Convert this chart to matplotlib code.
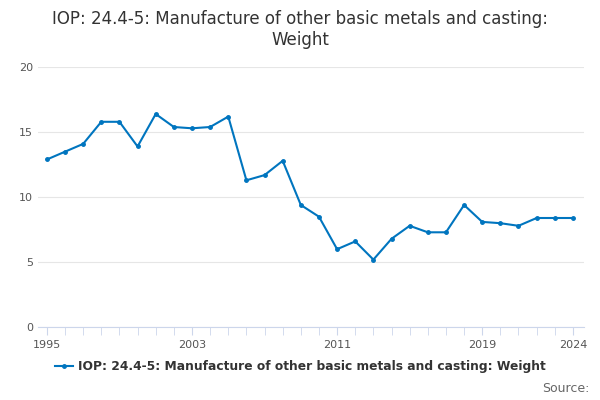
import matplotlib
matplotlib.use("Agg")
import matplotlib.pyplot as plt

years = list(range(1995, 2025))
values = [12.9,13.5,14.1,15.8,15.8,13.9,16.4,15.4,15.3,15.4,16.2,11.3,11.7,12.8,9.4,8.5,6.0,6.6,5.2,6.8,7.8,7.3,7.3,9.4,8.1,8.0,7.8,8.4,8.4,8.4]
tick_years = [1995, 2003, 2011, 2019, 2024]
label = "IOP: 24.4-5: Manufacture of other basic metals and casting: Weight"

fig = plt.figure(figsize=(6, 4), dpi=100)
ax = fig.add_axes([0.063, 0.182, 0.91, 0.65])
ax.plot(years, values, color="#0075bf", lw=1.5, marker="o", ms=2.5, label=label)
ax.set_ylim(0, 20)
ax.set_yticks([0, 5, 10, 15, 20])
ax.set_xlim(1994.5, 2024.6)
ax.set_xticks(years, minor=True)
ax.set_xticks(tick_years)
ax.grid(axis="y", color="#e6e6e6", lw=0.8)
ax.set_axisbelow(True)
for s in ["top", "right", "left"]:
    ax.spines[s].set_visible(False)
ax.spines["bottom"].set_color("#ccd6eb")
ax.tick_params(axis="y", length=0, labelsize=8, colors="#555555")
ax.tick_params(axis="x", which="both", length=6, color="#ccd6eb", labelsize=8, labelcolor="#555555")
fig.suptitle("IOP: 24.4-5: Manufacture of other basic metals and casting:\nWeight", y=0.975, fontsize=12, color="#333333")
fig.legend(loc="lower center", bbox_to_anchor=(0.5, 0.04), frameon=False,
           handlelength=1.5, handletextpad=0.4, prop={"weight": "bold", "size": 8.8}, labelcolor="#333333")
fig.text(0.982, 0.012, "Source:", ha="right", va="bottom", fontsize=9, color="#666666")
fig.savefig("out.png")
